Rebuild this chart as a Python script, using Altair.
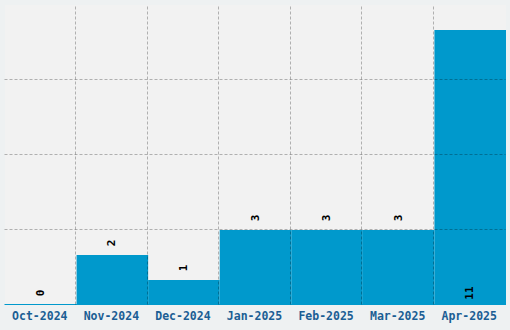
import altair as alt
import pandas as pd

months = ["Oct-2024", "Nov-2024", "Dec-2024", "Jan-2025", "Feb-2025", "Mar-2025", "Apr-2025"]
counts = [0, 2, 1, 3, 3, 3, 11]
grid_values = [3, 6, 9]

df = pd.DataFrame({"month": months, "count": counts})

W, H = 501, 300

xscale = alt.Scale(domain=months, paddingInner=0, paddingOuter=0)
yscale = alt.Scale(domain=[0, 12], nice=False)

y_axis = alt.Axis(title=None, labels=False, ticks=False, domain=False,
                  grid=True, values=grid_values, gridColor="#000000",
                  gridOpacity=0.27, gridDash=[3, 2], gridWidth=1,
                  zindex=1, translate=-0.5)

bars = alt.Chart(df).mark_bar(color="#0099cc").encode(
    x=alt.X("month:N", sort=months, scale=xscale,
            axis=alt.Axis(title=None, labelAngle=0, grid=False, ticks=False,
                          domain=True, domainColor="#0099cc", domainWidth=1,
                          translate=-0.5, labelFont="DejaVu Sans Mono",
                          labelFontWeight="bold", labelFontSize=11.5,
                          labelColor="#1b5e94", labelPadding=6)),
    y=alt.Y("count:Q", scale=yscale, axis=y_axis),
)

labels = alt.Chart(df).transform_calculate(
    pos="datum.count > 10 ? 0 : datum.count"
).mark_text(angle=270, align="center", baseline="middle", dx=12,
            font="DejaVu Sans Mono", fontWeight="bold", fontSize=11,
            color="#000000").encode(
    x=alt.X("month:N", sort=months, scale=xscale, axis=None),
    y=alt.Y("pos:Q", scale=yscale, axis=y_axis),
    text=alt.Text("count:Q"),
)

gridlayer = alt.Chart(df).mark_bar(opacity=0).encode(
    x=alt.X("month:N", sort=months, scale=xscale,
            axis=alt.Axis(title=None, labels=False, ticks=False, domain=False,
                          grid=True, values=months[1:], bandPosition=0,
                          gridColor="#000000", gridOpacity=0.27,
                          gridDash=[3, 2], gridWidth=1, zindex=1,
                          translate=-0.5)),
    y=alt.Y("count:Q", scale=yscale, axis=y_axis),
)

chart = alt.layer(bars, labels, gridlayer).resolve_axis(x="independent").properties(
    width=W, height=H,
    autosize=alt.AutoSizeParams(type="none"),
    padding={"left": 5, "top": 5, "right": 4, "bottom": 25},
    background="#eef1f2",
).configure_view(fill="#f2f2f2", stroke=None)

chart.save("out.html", embed_options={"renderer": "svg", "actions": False})
